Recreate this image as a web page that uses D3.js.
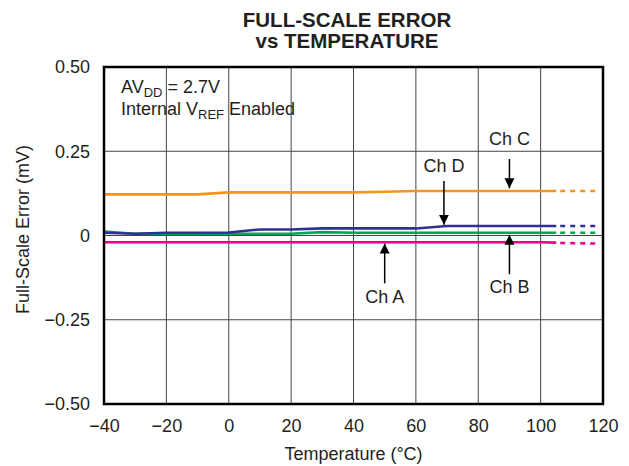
<!DOCTYPE html>
<html>
<head>
<meta charset="utf-8">
<style>
  body { margin: 0; background: #fff; }
  text { font-family: "Liberation Sans", Arial, sans-serif; fill: #231f20; }
</style>
</head>
<body>
<svg width="629" height="466"></svg>
<script src="https://d3js.org/d3.v7.min.js"></script>
<script>
// measured temperatures (°C) and full-scale error (mV) per channel
var temps = [-40, -30, -20, -10, 0, 10, 20, 30, 40, 50, 60, 70, 80, 90, 100, 105];
var chA = [-0.020, -0.020, -0.020, -0.020, -0.020, -0.020, -0.020, -0.020, -0.020, -0.020, -0.020, -0.020, -0.020, -0.020, -0.020, -0.021];
var chB = [0.012, 0.005, 0.005, 0.005, 0.005, 0.005, 0.005, 0.010, 0.008, 0.008, 0.008, 0.008, 0.008, 0.008, 0.008, 0.008];
var chC = [0.122, 0.122, 0.122, 0.122, 0.128, 0.128, 0.128, 0.128, 0.128, 0.130, 0.132, 0.132, 0.132, 0.132, 0.132, 0.132];
var chD = [0.008, 0.005, 0.008, 0.008, 0.009, 0.018, 0.018, 0.021, 0.021, 0.021, 0.021, 0.028, 0.028, 0.028, 0.028, 0.028];
// extrapolated (dashed) part
var extTemps = [105, 119];
var extA = [-0.022, -0.024];
var extB = [0.008, 0.008];
var extC = [0.132, 0.132];
var extD = [0.028, 0.028];

var xTicks = [-40, -20, 0, 20, 40, 60, 80, 100, 120];
var yTicks = [-0.5, -0.25, 0, 0.25, 0.5];
var yTickLabels = ["\u22120.50", "\u22120.25", "0", "0.25", "0.50"];

var series = [
  { name: "Ch A", vals: chA, ext: extA, color: "#ec008c" },
  { name: "Ch B", vals: chB, ext: extB, color: "#00a651" },
  { name: "Ch D", vals: chD, ext: extD, color: "#2e3192" },
  { name: "Ch C", vals: chC, ext: extC, color: "#f7941d" }
];

var svg = d3.select("svg");
var margin = { left: 104, right: 26, top: 67, bottom: 62 };
var width = +svg.attr("width") - margin.left - margin.right;
var height = +svg.attr("height") - margin.top - margin.bottom;
var g = svg.append("g").attr("transform", `translate(${margin.left},${margin.top})`);

var x = d3.scaleLinear().domain([-40, 120]).range([0, width]);
var y = d3.scaleLinear().domain([-0.5, 0.5]).range([height, 0]);

// grid
g.append("g").selectAll("line").data(xTicks).join("line")
  .attr("x1", d => x(d)).attr("x2", d => x(d))
  .attr("y1", 0).attr("y2", height)
  .attr("stroke", "#444").attr("stroke-width", 1);
g.append("g").selectAll("line").data(yTicks).join("line")
  .attr("x1", 0).attr("x2", width)
  .attr("y1", d => y(d)).attr("y2", d => y(d))
  .attr("stroke", "#444").attr("stroke-width", 1);

// axes (labels only)
var xAxis = g.append("g").attr("transform", `translate(0,${height})`)
  .call(d3.axisBottom(x).tickValues(xTicks).tickSize(0).tickPadding(15)
    .tickFormat(d => d < 0 ? "\u2212" + Math.abs(d) : d));
var yAxis = g.append("g")
  .call(d3.axisLeft(y).tickValues(yTicks).tickSize(0).tickPadding(14)
    .tickFormat((d, i) => yTickLabels[i]));
[xAxis, yAxis].forEach(a => {
  a.select(".domain").remove();
  a.selectAll("text").attr("font-size", 18).attr("fill", "#231f20")
    .style("font-family", "'Liberation Sans', Arial, sans-serif");
});

// lines
var line = d3.line().x(d => x(d[0])).y(d => y(d[1]));
series.forEach(s => {
  g.append("path").datum(temps.map((t, i) => [t, s.vals[i]]))
    .attr("fill", "none").attr("stroke", s.color).attr("stroke-width", 2.6)
    .attr("d", line);
  g.append("path").datum(extTemps.map((t, i) => [t, s.ext[i]]))
    .attr("fill", "none").attr("stroke", s.color).attr("stroke-width", 2.6)
    .attr("stroke-dasharray", "5,5").attr("stroke-dashoffset", -4)
    .attr("d", line);
});

// frame
g.append("rect").attr("width", width).attr("height", height)
  .attr("fill", "none").attr("stroke", "#000").attr("stroke-width", 2.5);

// arrows
var defs = svg.append("defs");
defs.append("marker").attr("id", "ah").attr("viewBox", "0 0 10 10")
  .attr("refX", 10).attr("refY", 5).attr("markerWidth", 10).attr("markerHeight", 11)
  .attr("markerUnits", "userSpaceOnUse").attr("orient", "auto")
  .append("path").attr("d", "M0,0 L10,5 L0,10 Z").attr("fill", "#000");

var labels = [
  { text: "Ch C", t: 90, ly: 0.268, from: 0.227, to: 0.14 },
  { text: "Ch D", t: 69, ly: 0.188, from: 0.162, to: 0.032 },
  { text: "Ch A", t: 50, ly: -0.2, from: -0.142, to: -0.024 },
  { text: "Ch B", t: 90, ly: -0.171, from: -0.115, to: 0.002 }
];
labels.forEach(l => {
  g.append("text").attr("x", x(l.t)).attr("y", y(l.ly))
    .attr("text-anchor", "middle").attr("font-size", 18).text(l.text);
  g.append("line").attr("x1", x(l.t)).attr("x2", x(l.t))
    .attr("y1", y(l.from)).attr("y2", y(l.to))
    .attr("stroke", "#000").attr("stroke-width", 1.5).attr("marker-end", "url(#ah)");
});

// in-plot notes
var n1 = g.append("text").attr("x", 17).attr("y", 26).attr("font-size", 18);
n1.append("tspan").text("AV");
n1.append("tspan").attr("font-size", 13).attr("dy", 4).text("DD");
n1.append("tspan").attr("dy", -4).text(" = 2.7V");
var n2 = g.append("text").attr("x", 17).attr("y", 48).attr("font-size", 18);
n2.append("tspan").text("Internal V");
n2.append("tspan").attr("font-size", 13).attr("dy", 4).text("REF");
n2.append("tspan").attr("dy", -4).text(" Enabled");

// titles
svg.append("text").attr("x", 347).attr("y", 27)
  .attr("text-anchor", "middle").attr("font-size", 20.5).attr("font-weight", "bold")
  .text("FULL-SCALE ERROR");
svg.append("text").attr("x", 347).attr("y", 48)
  .attr("text-anchor", "middle").attr("font-size", 20.5).attr("font-weight", "bold")
  .text("vs TEMPERATURE");
svg.append("text").attr("x", margin.left + width / 2).attr("y", 460)
  .attr("text-anchor", "middle").attr("font-size", 18).text("Temperature (\u00b0C)");
svg.append("text").attr("transform", `translate(29,${margin.top + height / 2 - 6}) rotate(-90)`)
  .attr("text-anchor", "middle").attr("font-size", 18).text("Full-Scale Error (mV)");
</script>
</body>
</html>
